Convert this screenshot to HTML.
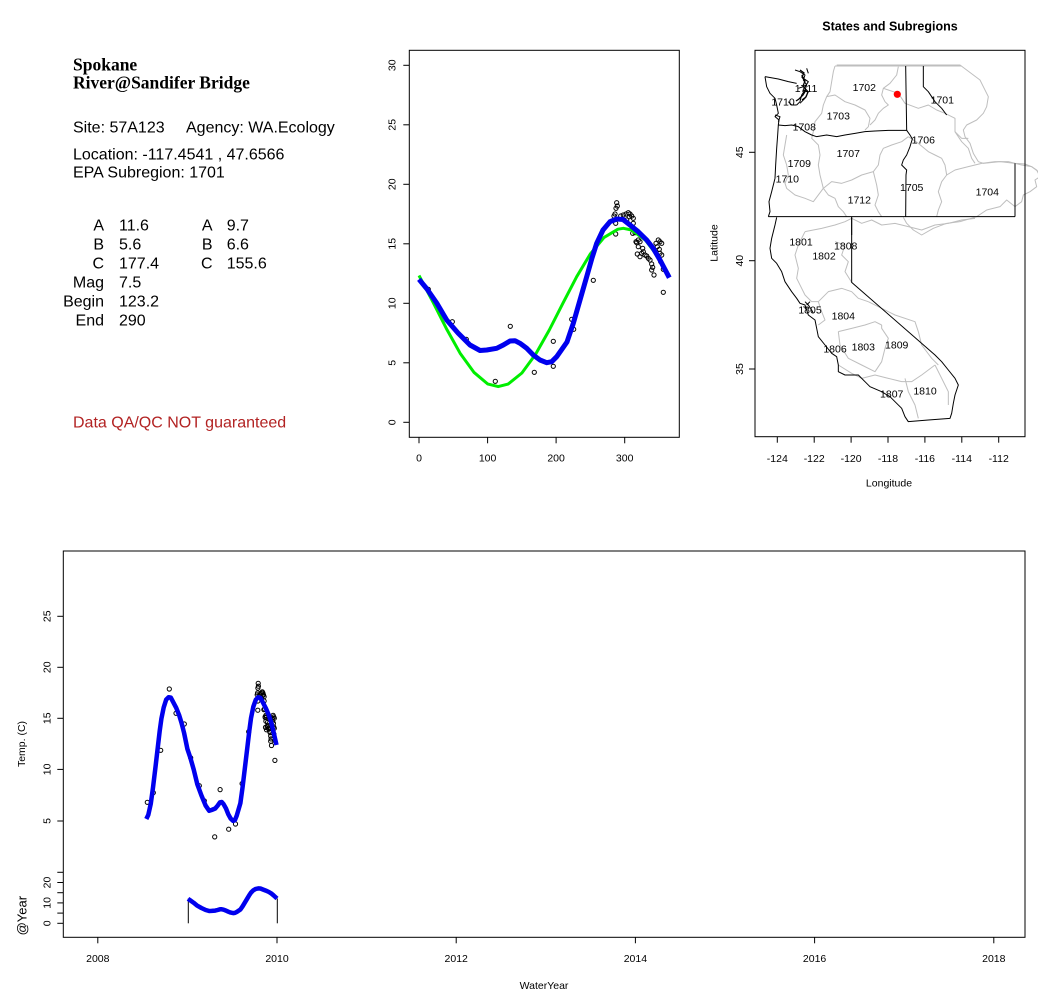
<!DOCTYPE html>
<html><head><meta charset="utf-8"><style>
html,body{margin:0;padding:0;background:#fff;}
svg{display:block;font-family:"Liberation Sans",Arial,sans-serif;}
.ns path{vector-effect:non-scaling-stroke;}
</style></head><body>
<svg width="1038" height="1001" viewBox="0 0 1038 1001" xmlns="http://www.w3.org/2000/svg">
<rect width="1038" height="1001" fill="#fff"/>

<!-- ===== Top-left text panel ===== -->
<g font-family="'Liberation Serif',serif" font-weight="bold" font-size="17.5" fill="#000">
<text x="73" y="70.7">Spokane</text>
<text x="73" y="88.3">River@Sandifer Bridge</text>
</g>
<g font-size="16" fill="#000">
<text x="73" y="132.7">Site: 57A123</text>
<text x="186" y="132.7">Agency: WA.Ecology</text>
<text x="73" y="159.3">Location: -117.4541 , 47.6566</text>
<text x="73" y="177.7">EPA Subregion: 1701</text>
<g text-anchor="end">
<text x="104" y="230.7">A</text>
<text x="104" y="249.3">B</text>
<text x="104" y="268.3">C</text>
<text x="104" y="287.3">Mag</text>
<text x="104" y="306.7">Begin</text>
<text x="104" y="325.7">End</text>
<text x="212.5" y="230.7">A</text>
<text x="212.5" y="249.3">B</text>
<text x="212.5" y="268.3">C</text>
</g>
<text x="119" y="230.7">11.6</text>
<text x="119" y="249.3">5.6</text>
<text x="119" y="268.3">177.4</text>
<text x="119" y="287.3">7.5</text>
<text x="119" y="306.7">123.2</text>
<text x="119" y="325.7">290</text>
<text x="226.7" y="230.7">9.7</text>
<text x="226.7" y="249.3">6.6</text>
<text x="226.7" y="268.3">155.6</text>
<text x="73" y="427.7" fill="#b22222">Data QA/QC NOT guaranteed</text>
</g>

<!-- ===== Top-middle seasonal plot ===== -->
<rect x="409.3" y="50.3" width="270" height="387" fill="none" stroke="#000" stroke-width="1"/>
<g stroke="#000" stroke-width="1">
<line x1="403.3" y1="422.3" x2="409.3" y2="422.3"/>
<line x1="403.3" y1="362.8" x2="409.3" y2="362.8"/>
<line x1="403.3" y1="303.3" x2="409.3" y2="303.3"/>
<line x1="403.3" y1="243.8" x2="409.3" y2="243.8"/>
<line x1="403.3" y1="184.3" x2="409.3" y2="184.3"/>
<line x1="403.3" y1="124.8" x2="409.3" y2="124.8"/>
<line x1="403.3" y1="65.3" x2="409.3" y2="65.3"/>
<line x1="419" y1="437.3" x2="419" y2="443.3"/>
<line x1="487.6" y1="437.3" x2="487.6" y2="443.3"/>
<line x1="556.1" y1="437.3" x2="556.1" y2="443.3"/>
<line x1="624.7" y1="437.3" x2="624.7" y2="443.3"/>
</g>
<g font-size="10.5" fill="#000" text-anchor="middle">
<text transform="translate(391.7,422.3) rotate(-90)" dy="0.35em">0</text>
<text transform="translate(391.7,362.8) rotate(-90)" dy="0.35em">5</text>
<text transform="translate(391.7,303.3) rotate(-90)" dy="0.35em">10</text>
<text transform="translate(391.7,243.8) rotate(-90)" dy="0.35em">15</text>
<text transform="translate(391.7,184.3) rotate(-90)" dy="0.35em">20</text>
<text transform="translate(391.7,124.8) rotate(-90)" dy="0.35em">25</text>
<text transform="translate(391.7,65.3) rotate(-90)" dy="0.35em">30</text>
<text x="419" y="461.5">0</text>
<text x="487.6" y="461.5">100</text>
<text x="556.1" y="461.5">200</text>
<text x="624.7" y="461.5">300</text>
</g>
<g fill="none" stroke="#000" stroke-width="1">
<circle cx="428.3" cy="289.3" r="2.1"/><circle cx="452.3" cy="321.7" r="2.1"/><circle cx="466.3" cy="339.3" r="2.1"/><circle cx="495.3" cy="381.3" r="2.1"/><circle cx="510.3" cy="326.3" r="2.1"/><circle cx="534.3" cy="372.3" r="2.1"/><circle cx="553.3" cy="341.3" r="2.1"/><circle cx="553.3" cy="366.3" r="2.1"/><circle cx="571.7" cy="319.3" r="2.1"/><circle cx="573.7" cy="329.3" r="2.1"/><circle cx="593.3" cy="280.3" r="2.1"/><circle cx="663.3" cy="292.3" r="2.1"/>
<circle cx="616.7" cy="202.7" r="2.1"/><circle cx="617.3" cy="206" r="2.1"/><circle cx="616" cy="208.3" r="2.1"/><circle cx="615" cy="214" r="2.1"/><circle cx="614" cy="216" r="2.1"/><circle cx="615.7" cy="223.3" r="2.1"/><circle cx="615.7" cy="234" r="2.1"/><circle cx="620.7" cy="216" r="2.1"/><circle cx="623.3" cy="215" r="2.1"/><circle cx="626" cy="214" r="2.1"/><circle cx="628.3" cy="212.7" r="2.1"/><circle cx="630" cy="214" r="2.1"/><circle cx="631.7" cy="216" r="2.1"/><circle cx="633.3" cy="218.3" r="2.1"/><circle cx="629.3" cy="216.7" r="2.1"/><circle cx="626.7" cy="220" r="2.1"/><circle cx="633.3" cy="223.3" r="2.1"/><circle cx="632.7" cy="233.3" r="2.1"/><circle cx="635" cy="232.7" r="2.1"/><circle cx="636" cy="241.7" r="2.1"/><circle cx="636.7" cy="242.7" r="2.1"/><circle cx="638.3" cy="240" r="2.1"/><circle cx="640" cy="241.7" r="2.1"/><circle cx="638.3" cy="246.7" r="2.1"/><circle cx="642.7" cy="248.3" r="2.1"/><circle cx="643.3" cy="251.7" r="2.1"/><circle cx="641.7" cy="253.3" r="2.1"/><circle cx="637.3" cy="254" r="2.1"/><circle cx="640" cy="256.7" r="2.1"/><circle cx="645" cy="255" r="2.1"/><circle cx="646.7" cy="256" r="2.1"/><circle cx="648.3" cy="258.3" r="2.1"/><circle cx="650" cy="260" r="2.1"/><circle cx="651.7" cy="264" r="2.1"/><circle cx="652.7" cy="267.3" r="2.1"/><circle cx="651.7" cy="270" r="2.1"/><circle cx="654" cy="275" r="2.1"/><circle cx="656" cy="243.3" r="2.1"/><circle cx="658.3" cy="240" r="2.1"/><circle cx="660" cy="241.7" r="2.1"/><circle cx="661.7" cy="243.3" r="2.1"/><circle cx="657.3" cy="246.7" r="2.1"/><circle cx="659.3" cy="249.3" r="2.1"/><circle cx="660" cy="253.3" r="2.1"/><circle cx="661.7" cy="255" r="2.1"/><circle cx="660.7" cy="261.7" r="2.1"/><circle cx="663.3" cy="269.3" r="2.1"/>
</g>
<polyline fill="none" stroke="#00ee00" stroke-width="3" stroke-linejoin="round" points="419,275.5 432.7,301.6 446.4,328.6 460.1,353.2 473.9,372.3 487.6,383.9 498.2,386.6 508.1,384.1 521.9,373 535.6,354.2 549.3,330 563,303.1 576.7,276.7 590.4,253.8 604.1,237.4 617.9,229.2 623.3,228.3 631.6,230 645.3,240 659,258 669.3,275.5"/>
<polyline fill="none" stroke="#0000ee" stroke-width="5" stroke-linejoin="round" points="419,279.3 427,289 436.7,303 446.7,320 458,333 470,345 480,350.5 486.7,350 496.7,348.3 503.3,345 510,341 515,340.7 520,343.3 526.7,348.3 533.3,355 540,360 546.7,362.7 551.7,361.7 556.7,356.7 567,342 573.3,323.3 580,300 586.7,276.7 592,258 596.7,243.3 603,230 610,221.7 616.7,219 623,219.5 630,225 638,231.5 646.7,240 653,248 660,260 669.3,277.7"/>

<!-- ===== Map ===== -->
<text x="890" y="30.7" font-size="12.5" font-weight="bold" text-anchor="middle">States and Subregions</text>
<g class="ns" fill="none" stroke="#bebebe" stroke-width="1" stroke-linejoin="round">
<g transform="translate(700,10) scale(0.333333)">
<path d="M410,165 L780,165 800,180 820,195 840,210 850,230 865,260 860,290 850,310 830,330 800,345 790,360 795,380 810,400 820,430 835,455 850,460 900,455 945,460 975,462 995,470 1010,480 1020,500 1005,510 1010,530 990,545 970,555 965,575 945,590 920,570 900,590 860,600 830,620 780,635 740,640 700,655 665,675 640,660 620,640 610,622"/>
</g>
<g transform="translate(755,55) scale(0.333333)">
<path d="M240,33 L235,50 230,80 225,110 215,125 205,150 200,175 180,200 175,230 170,250 190,270 195,300 190,330 195,360 205,400 220,420 240,430 250,455 265,470 275,485"/>
<path d="M215,125 L240,120 270,140 300,150 330,165 345,190 340,215 330,225"/>
<path d="M430,35 L425,60 405,85 385,100 380,120 390,140 400,150 385,160 370,175 360,195 345,210"/>
<path d="M385,100 L400,105 430,115 450,145 490,160 520,150 545,165 570,175 600,190 600,230 620,250 640,250"/>
<path d="M95,240 L90,270 85,300 95,330 100,360 90,385 95,400 120,420 150,430 175,440 205,400"/>
<path d="M205,400 L230,380 260,385 290,375 320,360 355,350 370,330 375,300 385,280 410,270 440,260 460,245"/>
<path d="M355,350 L365,390 370,420 360,450 370,470 380,485"/>
<path d="M460,245 L490,265 520,290 540,300 560,310 570,330 575,360 560,380 550,410 560,440 550,465 545,485"/>
<path d="M575,360 L600,345 640,335 680,325 720,320 760,320 800,330 830,335 850,350"/>
<path d="M600,230 L620,260 640,280 650,310 660,325"/>
<path d="M240,33 L620,33"/>
</g>
<g transform="translate(755,205) scale(0.333333)">
<path d="M150,80 L130,120 120,150 130,190 125,220 140,250 150,270 170,290 190,290"/>
<path d="M150,80 L200,70 240,60 270,50 290,40"/>
<path d="M240,110 L270,120 260,150 280,170 270,200 290,232"/>
<path d="M190,290 L220,260 260,250 290,260 310,280 340,290"/>
<path d="M190,290 L200,320 210,345 190,360"/>
<path d="M250,380 L290,370 330,360 360,350 380,360"/>
<path d="M250,380 L255,420 280,460 320,480 360,500 380,470 390,430 400,400 380,370 380,360"/>
<path d="M340,290 L380,310 420,330 480,350 490,380 500,420 530,460 550,480"/>
<path d="M250,480 L290,505 320,520 360,510 400,520 440,530 470,530 500,510 540,480"/>
<path d="M450,520 L460,560 480,600 490,640"/>
<path d="M540,480 L560,520 580,560 580,600"/>
<path d="M290,40 L320,55 350,45 380,60 420,55 460,65 500,75 540,60 580,55 620,45 660,40"/>
</g>
</g>
<g class="ns" fill="none" stroke="#000" stroke-width="1" stroke-linejoin="round">
<g transform="translate(755,55) scale(0.333333)">
<path d="M30,65 L35,95 45,115 60,130 65,150 70,175 60,185 72,195 70,210 68,240 65,280 62,330 60,370 50,410 42,440 45,470 40,485"/>
<path d="M30,65 L70,72 100,80 125,85"/>
<path d="M70,210 L90,212 110,210 130,215 150,230 170,240 185,245 215,240 245,245 270,240 300,235 330,230 360,228 400,226 455,226"/>
<path d="M455,226 L465,240 472,252 465,275 455,300 445,315 440,330 455,345 453,360 452,485"/>
<path d="M452,33 L455,226"/>
<path d="M505,33 L505,95 520,110 540,140 560,160 575,180"/>
<path d="M40,485 L780,485"/>
<path d="M780,325 L780,485"/>
<path d="M290,485 L290,540"/>
<path d="M120,45 L135,50 150,60 145,75 155,90 150,105 140,120 135,140 125,150 M130,100 L145,95 160,110 150,130 135,145 M140,60 L150,75 M155,40 L160,55 M100,140 L110,150 125,150 M145,70 L160,80 150,95 M60,180 L75,185 70,200"/>
</g>
<g transform="translate(755,205) scale(0.333333)">
<path d="M65,37 L60,60 50,100 45,130 50,160 65,175 80,200 90,230 110,260 125,280 135,295 150,300 160,330 180,345 185,370 190,395 210,420 230,445 245,455 250,480 250,500 270,510 310,510 330,530 345,545 380,560 405,575 420,590 440,610 450,635 460,650 520,645 585,640 590,625 595,595 600,570 610,540 600,520 580,495 560,470 540,450 290,232 L290,37"/>
<path d="M150,290 L160,300 170,315 175,325 M155,300 L165,290 M145,305 L160,310"/>
</g>
</g>
<g stroke="#000" stroke-width="1.3" fill="none">
<path d="M800,70 l4,3 -2,4 3,4 -2,5 3,4 -3,5 -4,4 -3,2 M803,90 l5,2 -2,5 -4,3"/>
</g>
<circle cx="897.3" cy="94.3" r="3.6" fill="#ff0000"/>
<g font-size="10.5" fill="#000" text-anchor="middle">
<text x="864.3" y="91">1702</text>
<text x="942.3" y="103.7">1701</text>
<text x="806" y="92">1711</text>
<text x="783" y="105.4">1710</text>
<text x="838.3" y="119.7">1703</text>
<text x="804.3" y="130.4">1708</text>
<text x="923.3" y="143.7">1706</text>
<text x="848.3" y="157">1707</text>
<text x="799.3" y="167">1709</text>
<text x="787.3" y="182.7">1710</text>
<text x="911.7" y="191">1705</text>
<text x="987.3" y="195.4">1704</text>
<text x="859.3" y="203.7">1712</text>
<text x="801" y="245.7">1801</text>
<text x="845.7" y="249.7">1808</text>
<text x="824" y="259.7">1802</text>
<text x="810" y="313.7">1805</text>
<text x="843.3" y="319.7">1804</text>
<text x="835" y="352.7">1806</text>
<text x="863.3" y="350.4">1803</text>
<text x="896.7" y="348.7">1809</text>
<text x="891.7" y="397.7">1807</text>
<text x="925" y="394.7">1810</text>
</g>
<rect x="755" y="50.3" width="270" height="386.4" fill="none" stroke="#000" stroke-width="1"/>
<g stroke="#000" stroke-width="1">
<line x1="777.3" y1="436.7" x2="777.3" y2="442.7"/>
<line x1="814.2" y1="436.7" x2="814.2" y2="442.7"/>
<line x1="851.1" y1="436.7" x2="851.1" y2="442.7"/>
<line x1="888" y1="436.7" x2="888" y2="442.7"/>
<line x1="924.9" y1="436.7" x2="924.9" y2="442.7"/>
<line x1="961.8" y1="436.7" x2="961.8" y2="442.7"/>
<line x1="998.7" y1="436.7" x2="998.7" y2="442.7"/>
<line x1="749" y1="369" x2="755" y2="369"/>
<line x1="749" y1="260.7" x2="755" y2="260.7"/>
<line x1="749" y1="152.3" x2="755" y2="152.3"/>
</g>
<g font-size="10.5" fill="#000" text-anchor="middle">
<text x="777.3" y="461.8">-124</text>
<text x="814.2" y="461.8">-122</text>
<text x="851.1" y="461.8">-120</text>
<text x="888" y="461.8">-118</text>
<text x="924.9" y="461.8">-116</text>
<text x="961.8" y="461.8">-114</text>
<text x="998.7" y="461.8">-112</text>
<text transform="translate(739.3,369) rotate(-90)" dy="0.35em">35</text>
<text transform="translate(739.3,260.7) rotate(-90)" dy="0.35em">40</text>
<text transform="translate(739.3,152.3) rotate(-90)" dy="0.35em">45</text>
<text x="889" y="486.5">Longitude</text>
<text transform="translate(714,243) rotate(-90)" dy="0.35em">Latitude</text>
</g>

<!-- ===== Bottom time series ===== -->
<rect x="63.3" y="551" width="961.7" height="386.3" fill="none" stroke="#000" stroke-width="1"/>
<g stroke="#000" stroke-width="1">
<line x1="97.8" y1="937.3" x2="97.8" y2="943.3"/>
<line x1="277" y1="937.3" x2="277" y2="943.3"/>
<line x1="456.2" y1="937.3" x2="456.2" y2="943.3"/>
<line x1="635.4" y1="937.3" x2="635.4" y2="943.3"/>
<line x1="814.6" y1="937.3" x2="814.6" y2="943.3"/>
<line x1="993.8" y1="937.3" x2="993.8" y2="943.3"/>
<line x1="57.3" y1="821" x2="63.3" y2="821"/>
<line x1="57.3" y1="769.4" x2="63.3" y2="769.4"/>
<line x1="57.3" y1="718.3" x2="63.3" y2="718.3"/>
<line x1="57.3" y1="667.3" x2="63.3" y2="667.3"/>
<line x1="57.3" y1="616.3" x2="63.3" y2="616.3"/>
<line x1="57.3" y1="923.3" x2="63.3" y2="923.3"/>
<line x1="57.3" y1="913.1" x2="63.3" y2="913.1"/>
<line x1="57.3" y1="902.9" x2="63.3" y2="902.9"/>
<line x1="57.3" y1="892.7" x2="63.3" y2="892.7"/>
<line x1="57.3" y1="882.5" x2="63.3" y2="882.5"/>
<line x1="57.3" y1="872.3" x2="63.3" y2="872.3"/>
</g>
<g font-size="10.5" fill="#000" text-anchor="middle">
<text x="97.8" y="961.8">2008</text>
<text x="277" y="961.8">2010</text>
<text x="456.2" y="961.8">2012</text>
<text x="635.4" y="961.8">2014</text>
<text x="814.6" y="961.8">2016</text>
<text x="993.8" y="961.8">2018</text>
<text x="544" y="988.8">WaterYear</text>
<text transform="translate(46.7,821) rotate(-90)" dy="0.35em">5</text>
<text transform="translate(46.7,769.4) rotate(-90)" dy="0.35em">10</text>
<text transform="translate(46.7,718.3) rotate(-90)" dy="0.35em">15</text>
<text transform="translate(46.7,667.3) rotate(-90)" dy="0.35em">20</text>
<text transform="translate(46.7,616.3) rotate(-90)" dy="0.35em">25</text>
<text transform="translate(46.7,923.3) rotate(-90)" dy="0.35em">0</text>
<text transform="translate(46.7,902.9) rotate(-90)" dy="0.35em">10</text>
<text transform="translate(46.7,882.5) rotate(-90)" dy="0.35em">20</text>
<text transform="translate(21.5,744) rotate(-90)" dy="0.35em">Temp. (C)</text>
<text transform="translate(21.7,915.7) rotate(-90)" dy="0.35em" font-size="13">@Year</text>
</g>
<g fill="none" stroke="#000" stroke-width="1">
<circle cx="147.3" cy="802.3" r="2.1"/><circle cx="153.3" cy="792.7" r="2.1"/><circle cx="160.7" cy="750.3" r="2.1"/><circle cx="169.3" cy="689" r="2.1"/><circle cx="176" cy="713.3" r="2.1"/><circle cx="184.3" cy="724" r="2.1"/>
<circle cx="190.7" cy="757.8" r="2.1"/><circle cx="199.3" cy="785.7" r="2.1"/><circle cx="204.3" cy="800.8" r="2.1"/><circle cx="214.7" cy="836.9" r="2.1"/><circle cx="220.1" cy="789.6" r="2.1"/><circle cx="228.7" cy="829.2" r="2.1"/><circle cx="235.5" cy="824" r="2.1"/><circle cx="242.1" cy="783.6" r="2.1"/><circle cx="248.7" cy="731.7" r="2.1"/><circle cx="274.9" cy="760.4" r="2.1"/>
<circle cx="258.2" cy="683.3" r="2.1"/><circle cx="258.4" cy="686.2" r="2.1"/><circle cx="257.9" cy="688.1" r="2.1"/><circle cx="257.6" cy="693" r="2.1"/><circle cx="257.2" cy="694.8" r="2.1"/><circle cx="257.8" cy="701" r="2.1"/><circle cx="257.8" cy="710.2" r="2.1"/><circle cx="259.6" cy="694.8" r="2.1"/><circle cx="260.5" cy="693.9" r="2.1"/><circle cx="261.5" cy="693" r="2.1"/><circle cx="262.3" cy="691.9" r="2.1"/><circle cx="262.9" cy="693" r="2.1"/><circle cx="263.5" cy="694.8" r="2.1"/><circle cx="264.1" cy="696.7" r="2.1"/><circle cx="262.7" cy="695.4" r="2.1"/><circle cx="261.8" cy="698.2" r="2.1"/><circle cx="264.1" cy="701" r="2.1"/><circle cx="263.9" cy="709.6" r="2.1"/><circle cx="264.7" cy="709.1" r="2.1"/><circle cx="265.1" cy="716.9" r="2.1"/><circle cx="265.3" cy="717.7" r="2.1"/><circle cx="265.9" cy="715.4" r="2.1"/><circle cx="266.5" cy="716.9" r="2.1"/><circle cx="265.9" cy="721.2" r="2.1"/><circle cx="267.5" cy="722.5" r="2.1"/><circle cx="267.7" cy="725.5" r="2.1"/><circle cx="267.1" cy="726.8" r="2.1"/><circle cx="265.5" cy="727.4" r="2.1"/><circle cx="266.5" cy="729.8" r="2.1"/><circle cx="268.3" cy="728.3" r="2.1"/><circle cx="268.9" cy="729.2" r="2.1"/><circle cx="269.5" cy="731.1" r="2.1"/><circle cx="270.1" cy="732.6" r="2.1"/><circle cx="270.7" cy="736" r="2.1"/><circle cx="271.1" cy="738.9" r="2.1"/><circle cx="270.7" cy="741.2" r="2.1"/><circle cx="271.5" cy="745.5" r="2.1"/><circle cx="272.2" cy="718.2" r="2.1"/><circle cx="273.1" cy="715.4" r="2.1"/><circle cx="273.7" cy="716.9" r="2.1"/><circle cx="274.3" cy="718.2" r="2.1"/><circle cx="272.7" cy="721.2" r="2.1"/><circle cx="273.4" cy="723.4" r="2.1"/><circle cx="273.7" cy="726.8" r="2.1"/><circle cx="274.3" cy="728.3" r="2.1"/><circle cx="273.9" cy="734.1" r="2.1"/><circle cx="274.9" cy="740.6" r="2.1"/>
</g>
<polyline fill="none" stroke="#0000ee" stroke-width="4.5" stroke-linejoin="round" points="146.3,819 148.3,814.9 150.8,803.6 153,787.6 155.4,767.8 157.8,747.3 159.7,731 161.4,718.7 163.7,707.4 166.2,699.6 168.6,697.2 170.8,697.6 173.3,702.3 176.2,707.8 179.3,715.6 181.5,722.8 184.1,733 187.4,749 190.3,757.6 193.7,769.5 197.3,784.2 201.4,795.4 205.7,805.7 209.2,810.8 211.6,810 215.2,808.5 217.6,805.7 220,802.3 221.8,802 223.6,804.2 226,808.5 228.3,814.3 230.7,818.6 233.1,820.9 234.9,820.1 236.7,815.8 240.4,803.1 242.6,787 245,767 247.4,747 249.3,730.9 251,718.2 253.3,706.8 255.8,699.7 258.2,697.3 260.4,697.8 262.9,702.5 265.8,708.1 268.9,715.4 271.2,722.3 273.7,732.6 276.5,745"/>
<g stroke="#000" stroke-width="1">
<line x1="188.3" y1="898.5" x2="188.3" y2="923.3"/>
<line x1="277.3" y1="898.5" x2="277.3" y2="923.3"/>
</g>
<polyline fill="none" stroke="#0000ee" stroke-width="4.5" stroke-linejoin="round" points="188,898.8 190.3,900.4 193.7,902.8 197.3,905.7 201.4,908 205.7,910 209.2,911 211.6,910.9 215.2,910.6 217.6,910 220,909.3 221.8,909.3 223.6,909.7 226,910.6 228.3,911.7 230.7,912.6 233.1,913.1 234.9,912.9 236.7,912 240.4,909.5 242.6,906.3 245,902.3 247.4,898.3 249.3,895.1 251,892.6 253.3,890.3 255.8,888.9 258.2,888.4 260.4,888.5 262.9,889.5 265.8,890.6 268.9,892 271.2,893.4 273.7,895.5 277,898.5"/>
</svg>
</body></html>
